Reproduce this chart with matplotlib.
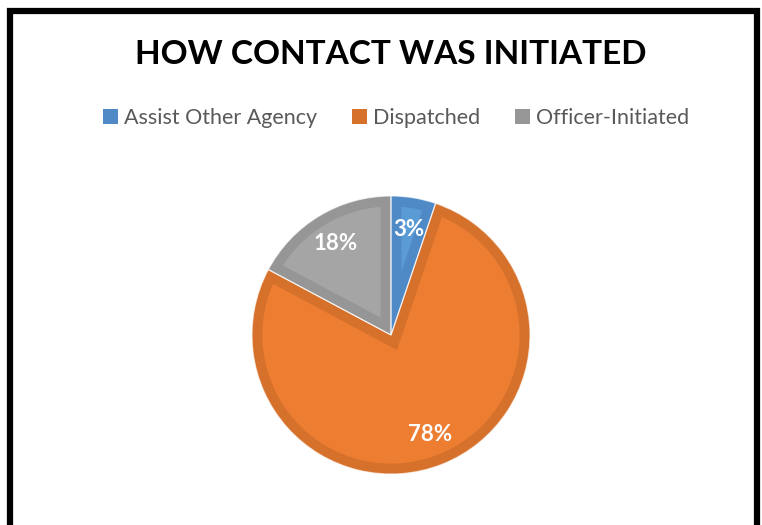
import numpy as np
import matplotlib.pyplot as plt
from matplotlib.patches import Patch, Rectangle, Wedge

# slice shares as drawn, and the labels printed on them
categories = ["Assist Other Agency", "Dispatched", "Officer-Initiated"]
shares = [5.2, 77.6, 17.2]
pct_labels = ["3%", "78%", "18%"]

fill_colors = ["#5B9BD5", "#ED7D31", "#A5A5A5"]
band_colors = ["#4F8AC6", "#D6712C", "#969696"]

W, H = 762, 525
fig = plt.figure(figsize=(W / 100, H / 100), dpi=100)

# pie axes: centre (391, 335) px, radius 139 px
cx, cy, r = 391, 335, 139
ax = fig.add_axes([(cx - r) / W, (H - cy - r) / H, 2 * r / W, 2 * r / H])
wedges, _ = ax.pie(shares, colors=fill_colors, startangle=90, counterclock=False,
                   radius=1, wedgeprops=dict(linewidth=0))

# inner darker band: thick edge clipped to a copy of the wedge
for w, bc in zip(wedges, band_colors):
    clip = Wedge(w.center, w.r, w.theta1, w.theta2, transform=ax.transData)
    w.set_edgecolor(bc)
    w.set_linewidth(15)
    w.set_joinstyle("miter")
    w.set_clip_on(True)
    w.set_clip_path(clip)

# thin white separators like the original
for w in wedges:
    ax.add_patch(Wedge(w.center, w.r, w.theta1, w.theta2, facecolor="none",
                       edgecolor="white", linewidth=0.8, alpha=0.7))

# label inside each slice
for w, lab in zip(wedges, pct_labels):
    mid = np.deg2rad((w.theta1 + w.theta2) / 2)
    ax.text(0.77 * np.cos(mid), 0.77 * np.sin(mid), lab, ha="center", va="center",
            color="white", fontsize=16, fontweight="bold", family="Lato")

ax.set_xlim(-1, 1)
ax.set_ylim(-1, 1)
ax.set_aspect("equal")
ax.axis("off")

fig.text(391 / W, 1 - 55 / H, "HOW CONTACT WAS INITIATED", ha="center", va="center",
         fontsize=24, fontweight="bold", family="Lato", color="black")

handles = [Patch(facecolor=c, edgecolor="none") for c in band_colors]
fig.legend(handles, categories, loc="center", bbox_to_anchor=(396 / W, 1 - 118 / H),
           ncol=3, frameon=False, handlelength=0.7, handleheight=0.7,
           handletextpad=0.28, columnspacing=1.6, labelcolor="#595959",
           prop=dict(family="Lato", size=15.5))

# thick black frame around the chart (bottom runs off the image)
fig.add_artist(Rectangle((10 / W, -0.1), 747 / W, 1.1 - 11 / H, transform=fig.transFigure,
                         fill=False, edgecolor="black", linewidth=4.5, clip_on=False))

fig.savefig("out.png", dpi=100)
